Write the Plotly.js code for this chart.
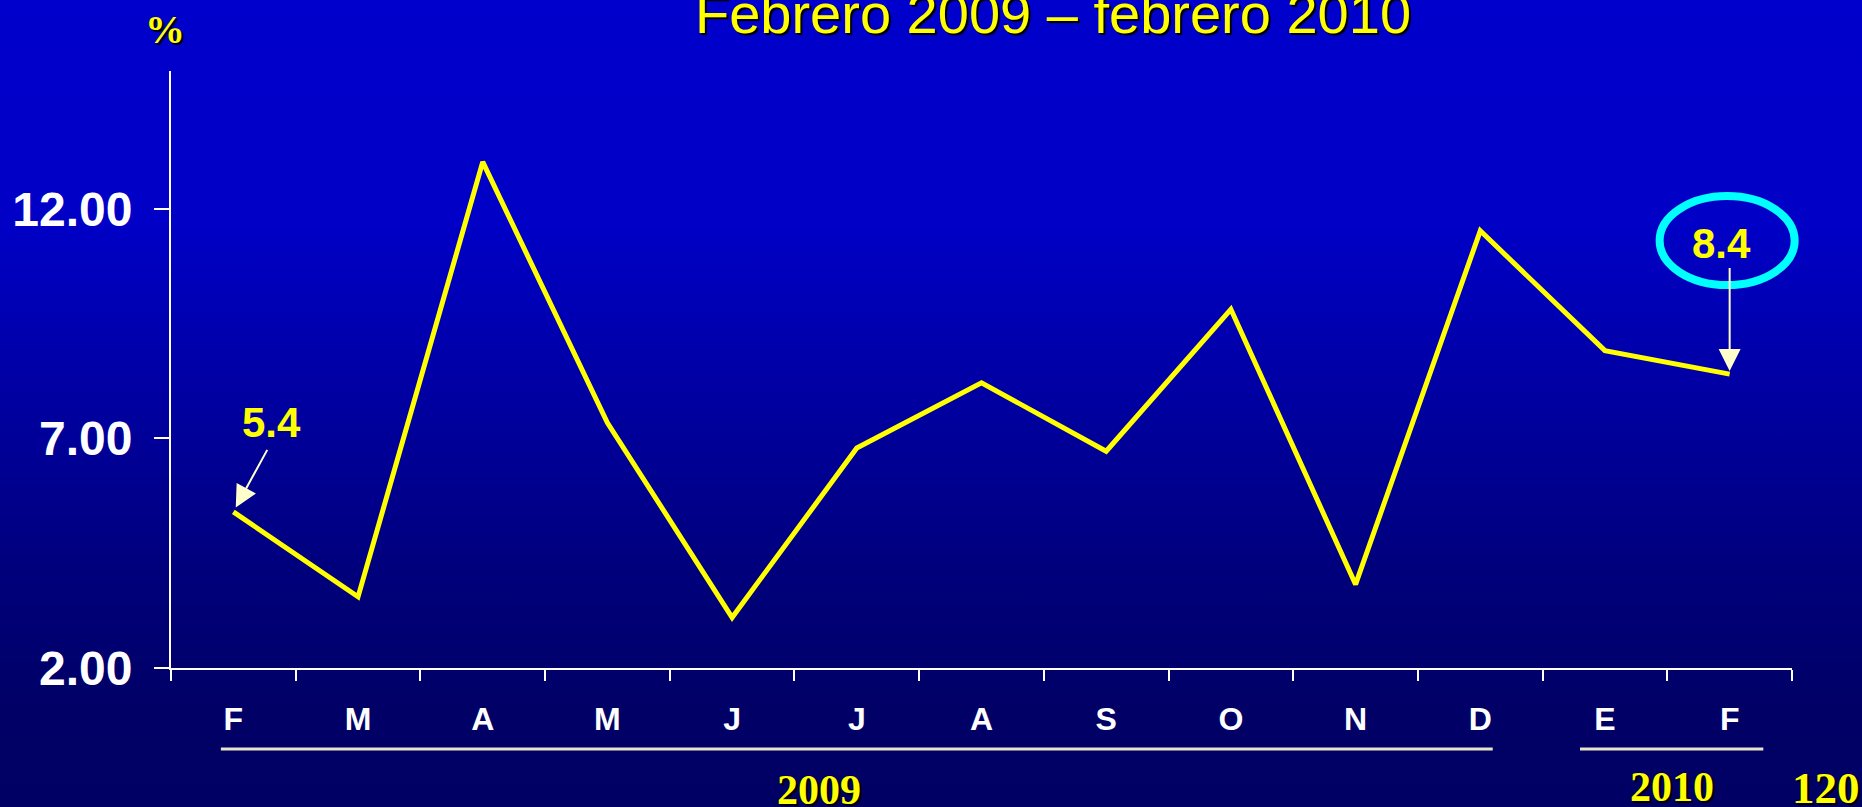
<!DOCTYPE html>
<html>
<head>
<meta charset="utf-8">
<script src="https://cdn.plot.ly/plotly-3.0.1.min.js"></script>
<style>
  html, body { margin: 0; padding: 0; }
  body {
    width: 1862px; height: 807px; overflow: hidden;
    background: linear-gradient(to bottom, #0000CC 0%, #0000C6 28%, #0000A0 50%, #00007A 72%, #000066 88%, #000064 100%);
  }
  #chart { width: 1862px; height: 807px; }
</style>
</head>
<body>
<div id="chart"></div>
<script>
// ---- data ----
const monthLabels = ['F', 'M', 'A', 'M', 'J', 'J', 'A', 'S', 'O', 'N', 'D', 'E', 'F'];
const yearOfMonth = [2009, 2009, 2009, 2009, 2009, 2009, 2009, 2009, 2009, 2009, 2009, 2010, 2010];
const rateValues = [5.4, 3.55, 13.02, 7.34, 3.1, 6.79, 8.21, 6.72, 9.81, 3.82, 11.52, 8.91, 8.4];
const yTickVals = [2, 7, 12];
const titleText = 'Febrero 2009 \u2013 febrero 2010';
const slideNumber = '120';

const idx = monthLabels.map((_, i) => i);
const first = 0, last = idx.length - 1;
const xRange = [-0.5, idx.length - 0.5];
const yRange = [2, 15];

const YELLOW = '#FFFF00';
const ARROW = '#FFFFCC';
const SHADOW = '2px 2px 1px #000000';

// paper-fraction helpers (so the callout ellipse is not clipped by the plot area)
const xFrac = v => (v - xRange[0]) / (xRange[1] - xRange[0]);
const yFrac = v => (v - yRange[0]) / (yRange[1] - yRange[0]);

const trace = {
  x: idx,
  y: rateValues,
  type: 'scatter',
  mode: 'lines',
  line: { color: YELLOW, width: 5 },
  hoverinfo: 'x+y'
};

const layout = {
  width: 1862, height: 807,
  margin: { l: 171, r: 70, t: 71, b: 139, pad: 0 },
  paper_bgcolor: 'rgba(0,0,0,0)',
  plot_bgcolor: 'rgba(0,0,0,0)',
  showlegend: false,
  title: {
    text: titleText,
    font: { family: 'Liberation Sans, Arial, sans-serif', size: 56, color: YELLOW, shadow: SHADOW },
    x: 1053 / 1862, xref: 'container', xanchor: 'center',
    y: 0.9834, yref: 'container', yanchor: 'middle'
  },
  xaxis: {
    type: 'linear',
    range: xRange,
    tickmode: 'array',
    tickvals: idx,
    ticktext: monthLabels,
    ticks: '',
    ticklabelstandoff: 22,
    tickfont: { family: 'Liberation Sans, Arial, sans-serif', size: 32, color: '#FFFFFF', weight: 'bold' },
    minor: { tickmode: 'linear', tick0: -0.5, dtick: 1, ticks: 'outside', ticklen: 11, tickwidth: 2, tickcolor: '#FFFFFF', showgrid: false },
    showline: true, linecolor: '#FFFFFF', linewidth: 2,
    showgrid: false, zeroline: false, fixedrange: true
  },
  yaxis: {
    range: yRange,
    tickmode: 'array',
    tickvals: yTickVals,
    tickformat: '.2f',
    ticks: 'outside', ticklen: 15, tickwidth: 2, tickcolor: '#FFFFFF',
    ticklabelstandoff: 12,
    tickfont: { family: 'Liberation Sans, Arial, sans-serif', size: 48, color: '#FFFFFF', weight: 'bold' },
    showline: true, linecolor: '#FFFFFF', linewidth: 2,
    showgrid: false, zeroline: false, fixedrange: true
  },
  shapes: [
    // ellipse around last value
    {
      type: 'circle',
      xref: 'paper', xsizemode: 'pixel', xanchor: xFrac(idx[last]), x0: -70, x1: 65,
      yref: 'paper', ysizemode: 'pixel', yanchor: yFrac(rateValues[last]), y0: 89, y1: 178,
      line: { color: '#00FFFF', width: 8 },
      fillcolor: 'rgba(0,0,0,0)'
    },
    // year underlines
    { type: 'line', xref: 'x', yref: 'paper', x0: -0.1, x1: 10.1, y0: -0.1355, y1: -0.1355,
      line: { color: '#E8E6C8', width: 3 } },
    { type: 'line', xref: 'x', yref: 'paper', x0: 10.8, x1: 12.27, y0: -0.1355, y1: -0.1355,
      line: { color: '#E8E6C8', width: 3 } }
  ],
  annotations: [
    // % unit label
    { text: '%', xref: 'paper', yref: 'paper', x: -0.0037, y: 1.0687, xanchor: 'center', yanchor: 'middle',
      showarrow: false, font: { family: 'Liberation Serif, Times New Roman, serif', size: 40, color: YELLOW, weight: 'bold', shadow: SHADOW } },
    // first value label + arrow
    { text: rateValues[first].toFixed(1), xref: 'x', yref: 'y', x: idx[first], y: rateValues[first],
      xshift: 38, yshift: 89, showarrow: false,
      font: { family: 'Liberation Sans, Arial, sans-serif', size: 42, color: YELLOW, weight: 'bold' } },
    { text: ' ', xref: 'x', yref: 'y', x: idx[first], y: rateValues[first],
      showarrow: true, axref: 'pixel', ayref: 'pixel', ax: 35, ay: -64, standoff: 5,
      arrowhead: 2, arrowsize: 2.2, arrowwidth: 2, arrowcolor: ARROW, font: { size: 1 } },
    // last value label + arrow
    { text: rateValues[last].toFixed(1), xref: 'x', yref: 'y', x: idx[last], y: rateValues[last],
      xshift: -8, yshift: 131, showarrow: false,
      font: { family: 'Liberation Sans, Arial, sans-serif', size: 42, color: YELLOW, weight: 'bold' } },
    { text: ' ', xref: 'x', yref: 'y', x: idx[last], y: rateValues[last],
      showarrow: true, axref: 'pixel', ayref: 'pixel', ax: 0, ay: -108, standoff: 3,
      arrowhead: 2, arrowsize: 2.2, arrowwidth: 2, arrowcolor: ARROW, font: { size: 1 } },
    // year labels
    { text: String(yearOfMonth[first]), xref: 'paper', yref: 'paper', x: 0.3998, y: -0.163, xanchor: 'center', yanchor: 'top',
      showarrow: false, font: { family: 'Liberation Serif, Times New Roman, serif', size: 42, color: YELLOW, weight: 'bold', shadow: SHADOW } },
    { text: String(yearOfMonth[last]), xref: 'paper', yref: 'paper', x: 0.926, y: -0.157, xanchor: 'center', yanchor: 'top',
      showarrow: false, font: { family: 'Liberation Serif, Times New Roman, serif', size: 42, color: YELLOW, weight: 'bold', shadow: SHADOW } },
    { text: slideNumber, xref: 'paper', yref: 'paper', x: 0.9985, y: -0.155, xanchor: 'left', yanchor: 'top',
      showarrow: false, font: { family: 'Liberation Serif, Times New Roman, serif', size: 45, color: YELLOW, weight: 'bold', shadow: SHADOW } }
  ]
};

Plotly.newPlot('chart', [trace], layout, { displayModeBar: false, staticPlot: true });
</script>
</body>
</html>
